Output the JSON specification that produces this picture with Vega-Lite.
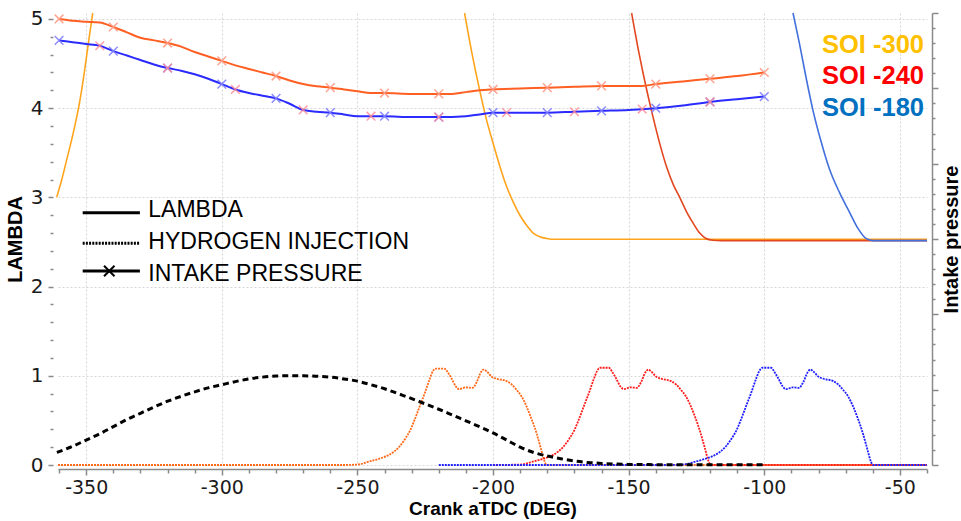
{
  "$schema": "https://vega.github.io/schema/vega-lite/v6.json",
  "width": 869,
  "height": 452,
  "autosize": {"type": "none"},
  "padding": {"left": 58, "top": 13, "right": 34, "bottom": 56},
  "background": "white",
  "config": {"view": {"stroke": null}, "font": "Liberation Sans"},
  "resolve": {"axis": {"x": "independent", "y": "independent"}},
  "datasets": {
    "h2a": [
      {"x": -360.4, "y": 0}, {"x": -300, "y": 0}, {"x": -255, "y": 0}, {"x": -250, "y": 0.005}, {"x": -245.5, "y": 0.04},
      {"x": -242, "y": 0.07}, {"x": -239.3, "y": 0.10}, {"x": -236.5, "y": 0.15}, {"x": -234.4, "y": 0.21}, {"x": -232.5, "y": 0.29},
      {"x": -230.7, "y": 0.38}, {"x": -229, "y": 0.50}, {"x": -227, "y": 0.66}, {"x": -225, "y": 0.82}, {"x": -223.4, "y": 0.96},
      {"x": -222.2, "y": 1.05}, {"x": -221, "y": 1.08}, {"x": -218, "y": 1.08}, {"x": -216.5, "y": 1.03}, {"x": -215.4, "y": 0.975},
      {"x": -213.7, "y": 0.88}, {"x": -212.5, "y": 0.85}, {"x": -210, "y": 0.87}, {"x": -207.6, "y": 0.865}, {"x": -206, "y": 0.93},
      {"x": -204.5, "y": 1.04}, {"x": -203.5, "y": 1.07}, {"x": -202, "y": 1.04}, {"x": -200.5, "y": 0.99}, {"x": -199, "y": 0.97},
      {"x": -195, "y": 0.94}, {"x": -193, "y": 0.90}, {"x": -191.4, "y": 0.845}, {"x": -189.5, "y": 0.77}, {"x": -187.7, "y": 0.66},
      {"x": -186, "y": 0.53}, {"x": -184, "y": 0.36}, {"x": -182.5, "y": 0.20}, {"x": -181, "y": 0.04}, {"x": -180.3, "y": 0}, {"x": -40, "y": 0}
    ],
    "h2b": [
      {"x": -200, "y": 0}, {"x": -190, "y": 0.005}, {"x": -185, "y": 0.04}, {"x": -181.5, "y": 0.07}, {"x": -178.8, "y": 0.10},
      {"x": -176, "y": 0.15}, {"x": -173.9, "y": 0.21}, {"x": -172, "y": 0.29}, {"x": -170.2, "y": 0.38}, {"x": -168.5, "y": 0.50},
      {"x": -166.5, "y": 0.66}, {"x": -164.5, "y": 0.82}, {"x": -162.9, "y": 0.96}, {"x": -161.7, "y": 1.05}, {"x": -160.5, "y": 1.09},
      {"x": -157.3, "y": 1.09}, {"x": -155.8, "y": 1.03}, {"x": -154.7, "y": 0.975}, {"x": -153, "y": 0.88}, {"x": -151.8, "y": 0.85},
      {"x": -149.3, "y": 0.87}, {"x": -147, "y": 0.865}, {"x": -145.4, "y": 0.93}, {"x": -143.8, "y": 1.04}, {"x": -142.8, "y": 1.07},
      {"x": -141.4, "y": 1.04}, {"x": -139.8, "y": 0.99}, {"x": -138.3, "y": 0.97}, {"x": -134.4, "y": 0.94}, {"x": -132.4, "y": 0.90},
      {"x": -130.8, "y": 0.845}, {"x": -128.9, "y": 0.77}, {"x": -127.1, "y": 0.66}, {"x": -125.4, "y": 0.53}, {"x": -123.5, "y": 0.36},
      {"x": -122, "y": 0.20}, {"x": -120.5, "y": 0.04}, {"x": -119.8, "y": 0}, {"x": -40, "y": 0}
    ],
    "h2c": [
      {"x": -220, "y": 0}, {"x": -135, "y": 0}, {"x": -130, "y": 0.005}, {"x": -125.2, "y": 0.04}, {"x": -121.7, "y": 0.07},
      {"x": -119, "y": 0.10}, {"x": -116.2, "y": 0.15}, {"x": -114.1, "y": 0.21}, {"x": -112.2, "y": 0.29}, {"x": -110.4, "y": 0.38},
      {"x": -108.7, "y": 0.50}, {"x": -106.7, "y": 0.66}, {"x": -104.7, "y": 0.82}, {"x": -103.1, "y": 0.96}, {"x": -101.9, "y": 1.05},
      {"x": -100.7, "y": 1.09}, {"x": -97.5, "y": 1.09}, {"x": -96, "y": 1.03}, {"x": -94.9, "y": 0.975}, {"x": -93.2, "y": 0.88},
      {"x": -92, "y": 0.85}, {"x": -89.5, "y": 0.87}, {"x": -87.2, "y": 0.865}, {"x": -85.6, "y": 0.93}, {"x": -84, "y": 1.04},
      {"x": -83, "y": 1.07}, {"x": -81.6, "y": 1.04}, {"x": -80, "y": 0.99}, {"x": -78.5, "y": 0.97}, {"x": -74.6, "y": 0.94},
      {"x": -72.6, "y": 0.90}, {"x": -71, "y": 0.845}, {"x": -69.1, "y": 0.77}, {"x": -67.3, "y": 0.66}, {"x": -65.6, "y": 0.53},
      {"x": -63.7, "y": 0.36}, {"x": -62.2, "y": 0.20}, {"x": -60.7, "y": 0.04}, {"x": -60, "y": 0}, {"x": -40, "y": 0}
    ],
    "h2sum": [
      {"x": -360.8, "y": 0.14}, {"x": -355, "y": 0.21}, {"x": -350, "y": 0.28}, {"x": -345, "y": 0.35}, {"x": -340, "y": 0.43},
      {"x": -335, "y": 0.51}, {"x": -330, "y": 0.58}, {"x": -325, "y": 0.65}, {"x": -320, "y": 0.715}, {"x": -315, "y": 0.77},
      {"x": -310, "y": 0.82}, {"x": -305, "y": 0.865}, {"x": -300, "y": 0.90}, {"x": -295, "y": 0.935}, {"x": -290, "y": 0.965},
      {"x": -285, "y": 0.985}, {"x": -280, "y": 0.997}, {"x": -275, "y": 1.0}, {"x": -270, "y": 1.0}, {"x": -265, "y": 0.995},
      {"x": -260, "y": 0.985}, {"x": -255, "y": 0.965}, {"x": -250, "y": 0.94}, {"x": -245, "y": 0.90}, {"x": -240, "y": 0.855},
      {"x": -235, "y": 0.80}, {"x": -230, "y": 0.745}, {"x": -225, "y": 0.685}, {"x": -220, "y": 0.625}, {"x": -215, "y": 0.56},
      {"x": -210, "y": 0.495}, {"x": -205, "y": 0.43}, {"x": -200, "y": 0.36}, {"x": -195, "y": 0.28}, {"x": -190, "y": 0.20},
      {"x": -185, "y": 0.14}, {"x": -180, "y": 0.10}, {"x": -175, "y": 0.07}, {"x": -170, "y": 0.045}, {"x": -165, "y": 0.028},
      {"x": -160, "y": 0.018}, {"x": -155, "y": 0.011}, {"x": -150, "y": 0.007}, {"x": -140, "y": 0.004}, {"x": -120, "y": 0.003},
      {"x": -100, "y": 0.003}
    ],
    "lam_a": [
      {"seg": 1, "x": -360.9, "y": 3.0}, {"seg": 1, "x": -359, "y": 3.2}, {"seg": 1, "x": -357.2, "y": 3.42}, {"seg": 1, "x": -354.8, "y": 3.72},
      {"seg": 1, "x": -352.3, "y": 4.09}, {"seg": 1, "x": -350.7, "y": 4.40}, {"seg": 1, "x": -349.2, "y": 4.73}, {"seg": 1, "x": -347.6, "y": 5.067},
      {"seg": 2, "x": -210.5, "y": 5.067}, {"seg": 2, "x": -207.8, "y": 4.62}, {"seg": 2, "x": -205, "y": 4.21}, {"seg": 2, "x": -202.5, "y": 3.88},
      {"seg": 2, "x": -200, "y": 3.61}, {"seg": 2, "x": -197.5, "y": 3.35}, {"seg": 2, "x": -195.1, "y": 3.13}, {"seg": 2, "x": -192.6, "y": 2.95},
      {"seg": 2, "x": -190.1, "y": 2.80}, {"seg": 2, "x": -187.7, "y": 2.69}, {"seg": 2, "x": -185.2, "y": 2.60}, {"seg": 2, "x": -182.8, "y": 2.56},
      {"seg": 2, "x": -180.3, "y": 2.54}, {"seg": 2, "x": -177, "y": 2.53}, {"seg": 2, "x": -40, "y": 2.53}
    ],
    "lam_b": [
      {"x": -148.9, "y": 5.067}, {"x": -146.2, "y": 4.62}, {"x": -143.6, "y": 4.24}, {"x": -141, "y": 3.90}, {"x": -138.5, "y": 3.60},
      {"x": -136, "y": 3.34}, {"x": -133.5, "y": 3.14}, {"x": -131, "y": 2.99}, {"x": -128.5, "y": 2.83}, {"x": -126, "y": 2.70},
      {"x": -123.8, "y": 2.60}, {"x": -121.5, "y": 2.54}, {"x": -119, "y": 2.52}, {"x": -116, "y": 2.515}, {"x": -40, "y": 2.515}
    ],
    "lam_c": [
      {"x": -89.4, "y": 5.067}, {"x": -87, "y": 4.72}, {"x": -84.5, "y": 4.33}, {"x": -82, "y": 3.97}, {"x": -79, "y": 3.62},
      {"x": -76, "y": 3.32}, {"x": -72.2, "y": 3.05}, {"x": -68.5, "y": 2.83}, {"x": -65.4, "y": 2.65}, {"x": -62.5, "y": 2.54},
      {"x": -60, "y": 2.515}, {"x": -40, "y": 2.515}
    ],
    "ip_a": [
      {"x": -360, "y": 5.00}, {"x": -355, "y": 4.98}, {"x": -350, "y": 4.97}, {"x": -345, "y": 4.96}, {"x": -340, "y": 4.91},
      {"x": -335, "y": 4.85}, {"x": -330, "y": 4.79}, {"x": -325, "y": 4.76}, {"x": -320, "y": 4.73}, {"x": -315, "y": 4.69},
      {"x": -310, "y": 4.63}, {"x": -305, "y": 4.58}, {"x": -300, "y": 4.53}, {"x": -295, "y": 4.48}, {"x": -290, "y": 4.44},
      {"x": -285, "y": 4.40}, {"x": -280, "y": 4.36}, {"x": -275, "y": 4.31}, {"x": -270, "y": 4.27}, {"x": -265, "y": 4.245},
      {"x": -260, "y": 4.23}, {"x": -255, "y": 4.21}, {"x": -250, "y": 4.19}, {"x": -245, "y": 4.17}, {"x": -240, "y": 4.17},
      {"x": -230, "y": 4.16}, {"x": -220, "y": 4.16}, {"x": -215, "y": 4.16}, {"x": -210, "y": 4.18}, {"x": -205, "y": 4.20},
      {"x": -200, "y": 4.21}, {"x": -190, "y": 4.22}, {"x": -180, "y": 4.23}, {"x": -170, "y": 4.24}, {"x": -160, "y": 4.25},
      {"x": -150, "y": 4.25}, {"x": -145, "y": 4.25}, {"x": -140, "y": 4.27}, {"x": -130, "y": 4.30}, {"x": -120, "y": 4.33},
      {"x": -110, "y": 4.36}, {"x": -100, "y": 4.40}
    ],
    "ip_b": [
      {"x": -360, "y": 4.76}, {"x": -355, "y": 4.74}, {"x": -350, "y": 4.72}, {"x": -345, "y": 4.70}, {"x": -340, "y": 4.64},
      {"x": -335, "y": 4.59}, {"x": -330, "y": 4.54}, {"x": -325, "y": 4.49}, {"x": -320, "y": 4.45}, {"x": -315, "y": 4.42},
      {"x": -310, "y": 4.38}, {"x": -305, "y": 4.33}, {"x": -300, "y": 4.27}, {"x": -295, "y": 4.21}, {"x": -290, "y": 4.17},
      {"x": -285, "y": 4.14}, {"x": -280, "y": 4.11}, {"x": -275, "y": 4.05}, {"x": -270, "y": 3.98}, {"x": -265, "y": 3.96},
      {"x": -260, "y": 3.95}, {"x": -255, "y": 3.93}, {"x": -250, "y": 3.91}, {"x": -240, "y": 3.91}, {"x": -230, "y": 3.90},
      {"x": -220, "y": 3.90}, {"x": -210, "y": 3.91}, {"x": -205, "y": 3.93}, {"x": -200, "y": 3.95}, {"x": -190, "y": 3.95},
      {"x": -180, "y": 3.95}, {"x": -170, "y": 3.96}, {"x": -160, "y": 3.97}, {"x": -150, "y": 3.98}, {"x": -140, "y": 4.00},
      {"x": -130, "y": 4.03}, {"x": -120, "y": 4.07}, {"x": -110, "y": 4.10}, {"x": -100, "y": 4.13}
    ],
    "mk_a": [
      {"x": -360, "y": 5.00}, {"x": -340, "y": 4.91}, {"x": -320, "y": 4.73}, {"x": -300, "y": 4.53}, {"x": -280, "y": 4.36},
      {"x": -260, "y": 4.23}, {"x": -240, "y": 4.17}, {"x": -220, "y": 4.16}, {"x": -200, "y": 4.21}, {"x": -180, "y": 4.23},
      {"x": -160, "y": 4.25}, {"x": -140, "y": 4.27}, {"x": -120, "y": 4.33}, {"x": -100, "y": 4.40}
    ],
    "mk_b": [
      {"x": -360, "y": 4.76}, {"x": -340, "y": 4.64}, {"x": -320, "y": 4.45}, {"x": -300, "y": 4.27}, {"x": -280, "y": 4.11},
      {"x": -260, "y": 3.95}, {"x": -240, "y": 3.91}, {"x": -220, "y": 3.90}, {"x": -200, "y": 3.95}, {"x": -180, "y": 3.95},
      {"x": -160, "y": 3.97}, {"x": -140, "y": 4.00}, {"x": -120, "y": 4.07}, {"x": -100, "y": 4.13}
    ],
    "mk_c": [
      {"x": -345, "y": 4.70}, {"x": -320, "y": 4.45}, {"x": -295, "y": 4.21}, {"x": -270, "y": 3.98}, {"x": -245, "y": 3.91},
      {"x": -220, "y": 3.90}, {"x": -195, "y": 3.95}, {"x": -170, "y": 3.96}, {"x": -145, "y": 3.99}, {"x": -120, "y": 4.07}
    ],
    "legend": [
      {"label": "LAMBDA", "x0": -351.3, "x1": -330.2, "ly": 2.829, "tx": -327.1, "ty": 2.783},
      {"label": "HYDROGEN INJECTION", "x0": -351.3, "x1": -330.2, "ly": 2.485, "tx": -327.1, "ty": 2.425},
      {"label": "INTAKE PRESSURE", "x0": -351.3, "x1": -330.2, "ly": 2.175, "tx": -327.1, "ty": 2.06}
    ],
    "legend_mark": [{"x": -341.5, "y": 2.175}],
    "soi": [
      {"label": "SOI -300", "x": -41.1, "y": 4.616},
      {"label": "SOI -240", "x": -41.1, "y": 4.268},
      {"label": "SOI -180", "x": -41.1, "y": 3.916}
    ]
  },
  "layer": [
    {
      "data": {"name": "h2a"},
      "mark": {"type": "line", "color": "#ff6a1a", "strokeWidth": 1.8, "strokeDash": [2, 1], "interpolate": "monotone"},
      "encoding": {
        "x": {"field": "x", "type": "quantitative", "scale": {"domain": [-360.4, -40], "nice": false, "zero": false},
          "axis": {"orient": "bottom", "offset": 4, "values": [-360, -340, -330, -320, -310, -290, -280, -270, -260, -240, -230, -220, -210, -190, -180, -170, -160, -140, -130, -120, -110, -90, -80, -70, -60, -40],
            "labels": false, "domain": false, "grid": false, "title": null, "tickSize": 4, "tickColor": "#8a8a8a", "tickWidth": 1.5}},
        "y": {"field": "y", "type": "quantitative", "scale": {"domain": [0, 5.067], "nice": false, "zero": false},
          "axis": {"orient": "left", "offset": 5, "values": [0.2, 0.4, 0.6, 0.8, 1.2, 1.4, 1.6, 1.8, 2.2, 2.4, 2.6, 2.8, 3.2, 3.4, 3.6, 3.8, 4.2, 4.4, 4.6, 4.8],
            "labels": false, "domain": false, "grid": false, "title": null, "tickSize": 3, "tickColor": "#8a8a8a", "tickWidth": 1.5}}
      }
    },
    {
      "data": {"name": "h2b"},
      "mark": {"type": "line", "color": "#ff1c1c", "strokeWidth": 1.8, "strokeDash": [2, 1], "interpolate": "monotone"},
      "encoding": {
        "x": {"field": "x", "type": "quantitative", "axis": null},
        "y": {"field": "y", "type": "quantitative",
          "axis": {"orient": "right", "offset": 5, "values": [0, 0.8445, 1.689, 2.5335, 3.378, 4.2225, 5.067],
            "labels": false, "domain": true, "domainColor": "#8a8a8a", "domainWidth": 1.5, "grid": false, "tickSize": 6, "tickColor": "#8a8a8a", "tickWidth": 1.5,
            "title": "Intake pressure", "titleFont": "Liberation Sans", "titleFontSize": 20, "titleFontWeight": "bold", "titleColor": "#000000", "titleAngle": 270, "titlePadding": 23}}
      }
    },
    {
      "data": {"name": "h2c"},
      "mark": {"type": "line", "color": "#2020ff", "strokeWidth": 1.8, "strokeDash": [2, 1], "interpolate": "monotone"},
      "encoding": {
        "x": {"field": "x", "type": "quantitative", "axis": null},
        "y": {"field": "y", "type": "quantitative",
          "axis": {"orient": "right", "offset": 5, "values": [0.1689, 0.3378, 0.5067, 0.6756, 1.0134, 1.1823, 1.3512, 1.5201, 1.8579, 2.0268, 2.1957, 2.3646, 2.7024, 2.8713, 3.0402, 3.2091, 3.5469, 3.7158, 3.8847, 4.0536, 4.3914, 4.5603, 4.7292, 4.8981],
            "labels": false, "domain": false, "grid": false, "title": null, "tickSize": 3, "tickColor": "#8a8a8a", "tickWidth": 1.5}}
      }
    },
    {
      "data": {"name": "h2sum"},
      "mark": {"type": "line", "color": "#000000", "strokeWidth": 3, "strokeDash": [6, 4], "interpolate": "monotone"},
      "encoding": {
        "x": {"field": "x", "type": "quantitative",
          "axis": {"orient": "bottom", "offset": 4, "values": [-350, -300, -250, -200, -150, -100, -50],
            "labelExpr": "'' + datum.value", "labelFont": "DejaVu Sans", "labelFontSize": 19, "labelColor": "#1a1a1a", "labelPadding": 3,
            "domain": true, "domainColor": "#8a8a8a", "domainWidth": 1.5, "tickSize": 6, "tickColor": "#8a8a8a", "tickWidth": 1.5,
            "grid": true, "gridColor": "#d6d6d6", "gridDash": [2, 2], "gridWidth": 1,
            "title": "Crank aTDC (DEG)", "titleFont": "Liberation Sans", "titleFontSize": 19, "titleFontWeight": "bold", "titleColor": "#000000", "titlePadding": 2}},
        "y": {"field": "y", "type": "quantitative",
          "axis": {"orient": "left", "offset": 5, "values": [0, 1, 2, 3, 4, 5],
            "labelFont": "DejaVu Sans", "labelFontSize": 20, "labelColor": "#1a1a1a", "labelPadding": 5,
            "domain": false, "tickSize": 5, "tickColor": "#8a8a8a", "tickWidth": 1.5,
            "grid": true, "gridColor": "#d6d6d6", "gridDash": [2, 2], "gridWidth": 1,
            "title": "LAMBDA", "titleFont": "Liberation Sans", "titleFontSize": 20, "titleFontWeight": "bold", "titleColor": "#000000", "titlePadding": 5}}
      }
    },
    {
      "data": {"name": "lam_a"},
      "mark": {"type": "line", "color": "#ffa41c", "strokeWidth": 1.6, "interpolate": "monotone"},
      "encoding": {
        "x": {"field": "x", "type": "quantitative", "axis": null},
        "y": {"field": "y", "type": "quantitative", "axis": null},
        "detail": {"field": "seg", "type": "nominal"}
      }
    },
    {
      "data": {"name": "lam_b"},
      "mark": {"type": "line", "color": "#e2471f", "strokeWidth": 1.6, "interpolate": "monotone"},
      "encoding": {
        "x": {"field": "x", "type": "quantitative", "axis": null},
        "y": {"field": "y", "type": "quantitative", "axis": null}
      }
    },
    {
      "data": {"name": "lam_c"},
      "mark": {"type": "line", "color": "#4270dc", "strokeWidth": 1.6, "interpolate": "monotone"},
      "encoding": {
        "x": {"field": "x", "type": "quantitative", "axis": null},
        "y": {"field": "y", "type": "quantitative", "axis": null}
      }
    },
    {
      "data": {"name": "ip_a"},
      "mark": {"type": "line", "color": "#ff5f22", "strokeWidth": 2, "interpolate": "monotone"},
      "encoding": {
        "x": {"field": "x", "type": "quantitative", "axis": null},
        "y": {"field": "y", "type": "quantitative", "axis": null}
      }
    },
    {
      "data": {"name": "ip_b"},
      "mark": {"type": "line", "color": "#2b2bff", "strokeWidth": 2, "interpolate": "monotone"},
      "encoding": {
        "x": {"field": "x", "type": "quantitative", "axis": null},
        "y": {"field": "y", "type": "quantitative", "axis": null}
      }
    },
    {
      "data": {"name": "mk_a"},
      "mark": {"type": "point", "shape": "M-1,-1L1,1M-1,1L1,-1", "filled": false, "size": 75, "strokeWidth": 1.5, "color": "#ff9b85", "opacity": 0.9},
      "encoding": {
        "x": {"field": "x", "type": "quantitative", "axis": null},
        "y": {"field": "y", "type": "quantitative", "axis": null}
      }
    },
    {
      "data": {"name": "mk_b"},
      "mark": {"type": "point", "shape": "M-1,-1L1,1M-1,1L1,-1", "filled": false, "size": 75, "strokeWidth": 1.5, "color": "#8080ff", "opacity": 0.9},
      "encoding": {
        "x": {"field": "x", "type": "quantitative", "axis": null},
        "y": {"field": "y", "type": "quantitative", "axis": null}
      }
    },
    {
      "data": {"name": "mk_c"},
      "mark": {"type": "point", "shape": "M-1,-1L1,1M-1,1L1,-1", "filled": false, "size": 75, "strokeWidth": 1.5, "color": "#ff8a95", "opacity": 0.8},
      "encoding": {
        "x": {"field": "x", "type": "quantitative", "axis": null},
        "y": {"field": "y", "type": "quantitative", "axis": null}
      }
    },
    {
      "mark": {"type": "rule", "color": "#8a8a8a", "strokeWidth": 1.5},
      "encoding": {
        "x": {"datum": -362.13, "type": "quantitative", "axis": null},
        "y": {"datum": 0, "type": "quantitative", "axis": null},
        "y2": {"datum": 5}
      }
    },
    {
      "data": {"name": "legend"},
      "mark": {"type": "rule", "color": "#000000", "strokeWidth": 3},
      "encoding": {
        "x": {"field": "x0", "type": "quantitative", "axis": null},
        "x2": {"field": "x1"},
        "y": {"field": "ly", "type": "quantitative", "axis": null},
        "strokeDash": {"field": "label", "type": "nominal", "legend": null,
          "scale": {"domain": ["LAMBDA", "HYDROGEN INJECTION", "INTAKE PRESSURE"], "range": [[1, 0], [2, 1.2], [1, 0]]}}
      }
    },
    {
      "data": {"name": "legend_mark"},
      "mark": {"type": "point", "shape": "M-1,-1L1,1M-1,1L1,-1", "filled": false, "size": 110, "strokeWidth": 2, "color": "#000000", "opacity": 1},
      "encoding": {
        "x": {"field": "x", "type": "quantitative", "axis": null},
        "y": {"field": "y", "type": "quantitative", "axis": null}
      }
    },
    {
      "data": {"name": "legend"},
      "mark": {"type": "text", "align": "left", "baseline": "alphabetic", "font": "Liberation Sans", "fontSize": 23, "color": "#000000"},
      "encoding": {
        "x": {"field": "tx", "type": "quantitative", "axis": null},
        "y": {"field": "ty", "type": "quantitative", "axis": null},
        "text": {"field": "label"}
      }
    },
    {
      "data": {"name": "soi"},
      "mark": {"type": "text", "align": "right", "baseline": "alphabetic", "font": "Liberation Sans", "fontSize": 25.5, "fontWeight": "bold"},
      "encoding": {
        "x": {"field": "x", "type": "quantitative", "axis": null},
        "y": {"field": "y", "type": "quantitative", "axis": null},
        "text": {"field": "label"},
        "color": {"field": "label", "type": "nominal", "legend": null,
          "scale": {"domain": ["SOI -300", "SOI -240", "SOI -180"], "range": ["#ffc000", "#ff0000", "#0070c0"]}}
      }
    }
  ]
}
